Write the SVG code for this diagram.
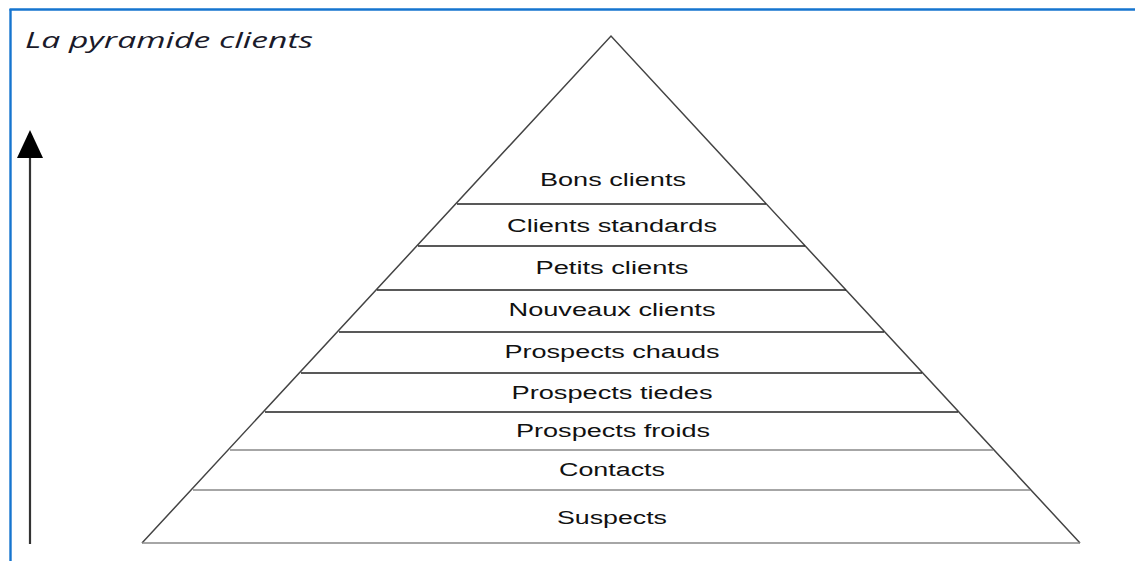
<svg xmlns="http://www.w3.org/2000/svg" width="1135" height="561" viewBox="0 0 1135 561">
<style>
.lbl{font-family:"Liberation Sans",Arial,sans-serif;font-size:18px;fill:#111;text-anchor:middle}
.title{font-family:"Open Sans","Noto Sans",sans-serif;font-style:italic;font-size:21px;fill:#1a1a2a}
.band{stroke:#222;stroke-width:1.3;fill:none}
.bandl{stroke:#888;stroke-width:1.5;fill:none}
.side{stroke:#444;stroke-width:1.5;fill:none}
</style>
<rect width="1135" height="561" fill="#fff"/>
<g id="frame">
<line x1="10.5" y1="9" x2="10.5" y2="561" stroke="#1675cf" stroke-width="2.4"/>
<line x1="9.5" y1="9.5" x2="1135" y2="9.5" stroke="#1675cf" stroke-width="2.4"/>
</g>
<text id="title" class="title" x="25" y="48" textLength="288" lengthAdjust="spacingAndGlyphs">La pyramide clients</text>
<g id="connectors">
<line x1="30" y1="544" x2="30" y2="156" stroke="#333" stroke-width="2.2"/>
<polygon points="30,130 17,158 43,158" fill="#000"/>
</g>
<g id="pyramid">
<polyline class="side" points="142,543 611,36 1080,543"/>
<line class="band" x1="457" y1="204" x2="766" y2="204"/>
<line class="band" x1="418" y1="246" x2="805" y2="246"/>
<line class="band" x1="377" y1="290" x2="846" y2="290"/>
<line class="band" x1="339" y1="332" x2="884" y2="332"/>
<line class="band" x1="301" y1="373" x2="922" y2="373"/>
<line class="band" x1="265" y1="412" x2="958" y2="412"/>
<line class="bandl" x1="230" y1="450" x2="993" y2="450"/>
<line class="bandl" x1="193" y1="490" x2="1030" y2="490"/>
<line class="bandl" x1="142" y1="543" x2="1080" y2="543"/>
</g>
<g id="n1"><text class="lbl" x="613" y="186" textLength="146" lengthAdjust="spacingAndGlyphs">Bons clients</text></g>
<g id="n2"><text class="lbl" x="612" y="232" textLength="210" lengthAdjust="spacingAndGlyphs">Clients standards</text></g>
<g id="n3"><text class="lbl" x="612" y="274" textLength="153" lengthAdjust="spacingAndGlyphs">Petits clients</text></g>
<g id="n4"><text class="lbl" x="612" y="316" textLength="207" lengthAdjust="spacingAndGlyphs">Nouveaux clients</text></g>
<g id="n5"><text class="lbl" x="612" y="358" textLength="215" lengthAdjust="spacingAndGlyphs">Prospects chauds</text></g>
<g id="n6"><text class="lbl" x="612" y="399" textLength="201" lengthAdjust="spacingAndGlyphs">Prospects tiedes</text></g>
<g id="n7"><text class="lbl" x="613" y="437" textLength="194" lengthAdjust="spacingAndGlyphs">Prospects froids</text></g>
<g id="n8"><text class="lbl" x="612" y="476" textLength="106" lengthAdjust="spacingAndGlyphs">Contacts</text></g>
<g id="n9"><text class="lbl" x="612" y="524" textLength="110" lengthAdjust="spacingAndGlyphs">Suspects</text></g>
</svg>
